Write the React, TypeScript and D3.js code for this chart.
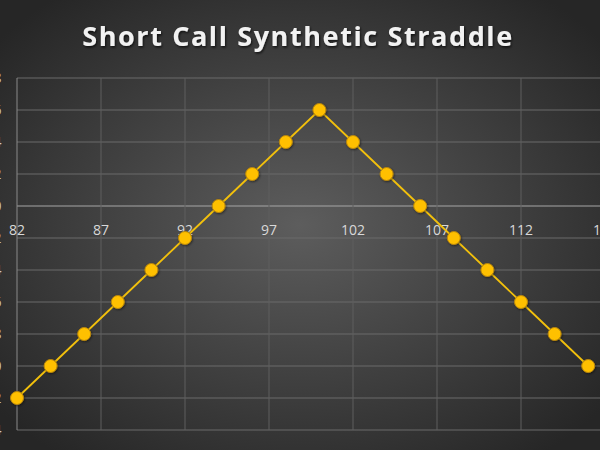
import React, { useEffect, useRef } from "react";
import * as d3 from "d3";

// Stock price at expiry vs profit/loss of the position
const strikes = [82, 84, 86, 88, 90, 92, 94, 96, 98, 100, 102, 104, 106, 108, 110, 112, 114, 116];
const payoff = [-12, -10, -8, -6, -4, -2, 0, 2, 4, 6, 4, 2, 0, -2, -4, -6, -8, -10];
const xTicks = [82, 87, 92, 97, 102, 107, 112, 117];
const yTicks = [-14, -12, -10, -8, -6, -4, -2, 0, 2, 4, 6, 8];
const title = "Short Call Synthetic Straddle";

export default function App() {
  const ref = useRef<SVGSVGElement>(null);
  const width = 600;
  const height = 450;

  useEffect(() => {
    document.body.style.margin = "0";
    const svg = d3.select(ref.current);
    svg.selectAll("*").remove();

    const defs = svg.append("defs");
    const grad = defs
      .append("radialGradient")
      .attr("id", "bg")
      .attr("cx", "50%")
      .attr("cy", "50%")
      .attr("r", "65%");
    grad.append("stop").attr("offset", "0%").attr("stop-color", "#5d5d5d");
    grad.append("stop").attr("offset", "100%").attr("stop-color", "#262626");

    const shadow = defs.append("filter").attr("id", "ts");
    shadow
      .append("feDropShadow")
      .attr("dx", 1)
      .attr("dy", 1.5)
      .attr("stdDeviation", 1)
      .attr("flood-color", "#000")
      .attr("flood-opacity", 0.7);

    const dotShadow = defs.append("filter").attr("id", "ds");
    dotShadow
      .append("feDropShadow")
      .attr("dx", 0.8)
      .attr("dy", 1)
      .attr("stdDeviation", 0.8)
      .attr("flood-color", "#000")
      .attr("flood-opacity", 0.5);

    svg.append("rect").attr("width", width).attr("height", height).attr("fill", "url(#bg)");

    const x = d3.scaleLinear().domain([82, 117]).range([17, 605]);
    const y = d3.scaleLinear().domain([-14, 8]).range([430, 78]);

    // horizontal grid
    svg
      .append("g")
      .selectAll("line")
      .data(yTicks)
      .join("line")
      .attr("x1", x(82))
      .attr("x2", width)
      .attr("y1", (d) => y(d))
      .attr("y2", (d) => y(d))
      .attr("stroke", (d) => (d === 0 ? "#a6a6a6" : "#6a6a6a"))
      .attr("stroke-width", (d) => (d === 0 ? 1.2 : 1));

    // vertical grid
    svg
      .append("g")
      .selectAll("line")
      .data(xTicks)
      .join("line")
      .attr("x1", (d) => x(d))
      .attr("x2", (d) => x(d))
      .attr("y1", y(8))
      .attr("y2", y(-14))
      .attr("stroke", (d) => (d === 82 ? "#8a8a8a" : "#5e5e5e"))
      .attr("stroke-width", 1);

    // y tick labels (mostly cut off at the left edge, as in the reference)
    svg
      .append("g")
      .selectAll("text")
      .data(yTicks)
      .join("text")
      .attr("x", 1.5)
      .attr("y", (d) => y(d) + 5)
      .attr("text-anchor", "end")
      .attr("fill", "#c8c8c8")
      .attr("font-family", "'Open Sans', sans-serif")
      .attr("font-size", 14)
      .text((d) => d);

    // x tick labels along the zero line
    svg
      .append("g")
      .selectAll("text")
      .data(xTicks)
      .join("text")
      .attr("x", (d) => x(d))
      .attr("y", y(0) + 29)
      .attr("text-anchor", "middle")
      .attr("fill", "#d9d9d9")
      .attr("font-family", "'Open Sans', sans-serif")
      .attr("font-size", 14)
      .text((d) => d);

    const pts = strikes.map((s, i) => [s, payoff[i]] as [number, number]);
    const line = d3
      .line<[number, number]>()
      .x((d) => x(d[0]))
      .y((d) => y(d[1]));

    svg
      .append("path")
      .datum(pts)
      .attr("fill", "none")
      .attr("stroke", "#f2c00c")
      .attr("stroke-width", 1.8)
      .attr("d", line);

    svg
      .append("g")
      .attr("filter", "url(#ds)")
      .selectAll("circle")
      .data(pts)
      .join("circle")
      .attr("cx", (d) => x(d[0]))
      .attr("cy", (d) => y(d[1]))
      .attr("r", 6.5)
      .attr("fill", "#ffc000")
      .attr("stroke", "#b8860b")
      .attr("stroke-width", 1);

    svg
      .append("text")
      .attr("x", 298)
      .attr("y", 46)
      .attr("text-anchor", "middle")
      .attr("fill", "#f2f2f2")
      .attr("font-family", "'Open Sans', sans-serif")
      .attr("font-weight", "bold")
      .attr("font-size", 27)
      .attr("letter-spacing", 1.6)
      .attr("filter", "url(#ts)")
      .text(title);
  }, []);

  return (
    <div style={{ position: "absolute", left: 0, top: 0 }}>
      <svg ref={ref} width={width} height={height} style={{ display: "block" }}></svg>
    </div>
  );
}
